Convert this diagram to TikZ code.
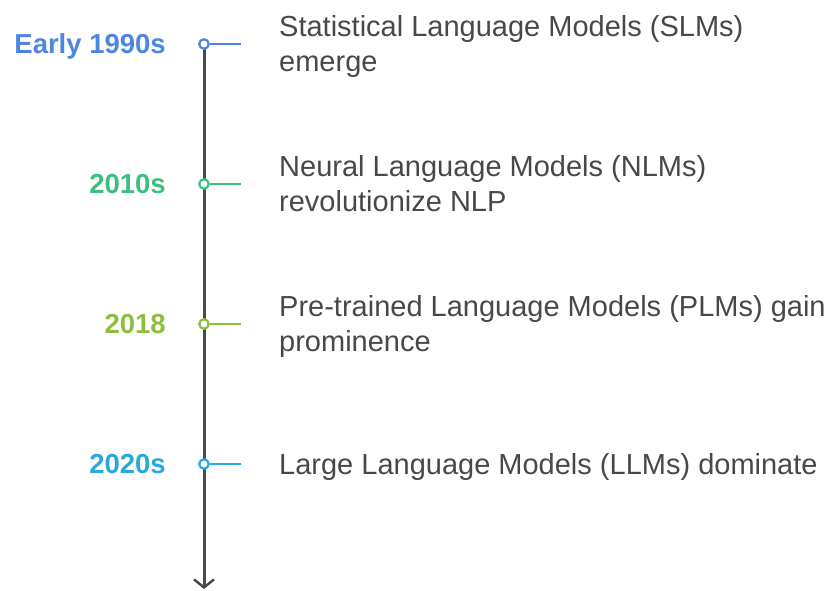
\documentclass[tikz,border=0pt]{standalone}
\usepackage{fontspec}
\setmainfont{Liberation Sans}
\usetikzlibrary{arrows.meta}
\definecolor{cblue}{HTML}{4D86E0}
\definecolor{cgreen}{HTML}{3DBE7F}
\definecolor{colive}{HTML}{8DBF3F}
\definecolor{ccyan}{HTML}{28A8DC}
\definecolor{axisgray}{HTML}{4A4A4A}
\definecolor{txtgray}{HTML}{484848}
\begin{document}
\begin{tikzpicture}[x=1pt,y=-1pt,
  year/.style={anchor=base east,inner sep=0pt,font=\fontsize{27.5}{33}\selectfont\bfseries},
  desc/.style={anchor=base west,inner sep=0pt,align=left,text=txtgray,font=\fontsize{29}{35}\selectfont},
  dot/.style={circle,draw=#1,fill=white,line width=2.2pt,minimum size=9.5pt,inner sep=0pt},
  tick/.style={draw=#1,line width=2.2pt}]
\useasboundingbox (0,0) rectangle (827,590);

% timeline axis
\coordinate (axtop) at (204,44);
\coordinate (axend) at (204,589);
\draw[axisgray,line width=3pt,-{Straight Barb[length=8pt,width=20pt,line width=2.5pt]}] (axtop) -- (axend);

% events
\foreach \n/\y/\c in {1/44/cblue,2/184/cgreen,3/324/colive,4/464/ccyan}{
  \node[dot=\c] (c\n) at (204,\y) {};
  \coordinate (t\n) at (241,\y);
  \draw[tick=\c] (c\n.east) -- (t\n);
}

\node[year,text=cblue]  (y1) at (166,53.8)  {Early 1990s};
\node[year,text=cgreen] (y2) at (166,193.8) {2010s};
\node[year,text=colive] (y3) at (166,333.8) {2018};
\node[year,text=ccyan]  (y4) at (166,473.8) {2020s};

% multi-line texts are placed by the baseline of their last line
\node[desc] (d1) at (279,71.9)  {Statistical Language Models (SLMs)\\emerge};
\node[desc] (d2) at (279,211.9) {Neural Language Models (NLMs)\\revolutionize NLP};
\node[desc] (d3) at (279,351.9) {Pre-trained Language Models (PLMs) gain\\prominence};
\node[desc] (d4) at (279,474.4) {Large Language Models (LLMs) dominate};
\end{tikzpicture}
\end{document}
